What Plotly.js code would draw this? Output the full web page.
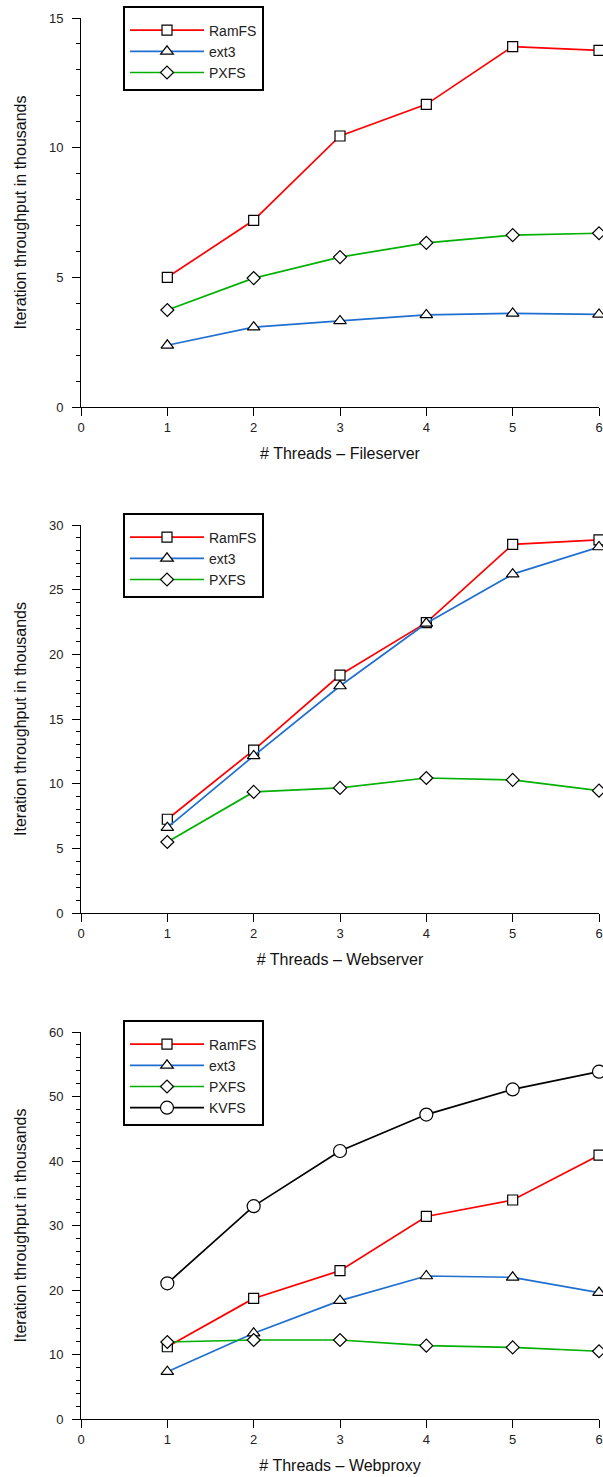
<!DOCTYPE html>
<html>
<head>
<meta charset="utf-8">
<script src="https://cdn.plot.ly/plotly-3.0.1.min.js"></script>
<style>html,body{margin:0;padding:0;background:#fff;}#chart{width:603px;height:1477px;}</style>
</head>
<body>
<div id="chart"></div>
<script>
// Threads (x values)
const threads = [1, 2, 3, 4, 5, 6];

// Fileserver (thousands)
const fileRamFS = [5.0, 7.2, 10.45, 11.67, 13.9, 13.75];
const fileExt3  = [2.38, 3.08, 3.32, 3.55, 3.61, 3.57];
const filePXFS  = [3.74, 4.97, 5.78, 6.33, 6.63, 6.70];

// Webserver (thousands)
const webRamFS = [7.25, 12.6, 18.4, 22.45, 28.5, 28.85];
const webExt3  = [6.6, 12.15, 17.55, 22.4, 26.2, 28.3];
const webPXFS  = [5.49, 9.36, 9.67, 10.44, 10.29, 9.46];

// Webproxy (thousands)
const proxyRamFS = [11.2, 18.7, 23.0, 31.4, 33.95, 40.9];
const proxyExt3  = [7.34, 13.3, 18.35, 22.17, 21.97, 19.6];
const proxyPXFS  = [11.94, 12.25, 12.25, 11.37, 11.1, 10.5];
const proxyKVFS  = [21.04, 33.0, 41.55, 47.2, 51.1, 53.85];

const xTitles = ["# Threads \u2013 Fileserver", "# Threads \u2013 Webserver", "# Threads \u2013 Webproxy"];
const yTitle = "Iteration throughput in thousands";

const RED = "#ff0000", BLUE = "#1f6fd1", GREEN = "#00b000", BLACK = "#000000";
const FONT = "Liberation Sans, Arial, sans-serif";

function tr(y, name, color, symbol, size, xa, ya, legend, show) {
  return {
    x: threads, y: y, name: name, type: "scatter", mode: "lines+markers",
    xaxis: xa, yaxis: ya, legend: legend, showlegend: show !== false,
    cliponaxis: false,
    line: {color: color, width: 1.7},
    marker: {symbol: symbol, size: size, color: "#ffffff", line: {color: "#000000", width: 1.2}}
  };
}

const data = [
  tr(fileRamFS, "RamFS", RED, "square", 10, "x", "y", "legend"),
  tr(fileExt3, "ext3", BLUE, "triangle-up", 11, "x", "y", "legend"),
  tr(filePXFS, "PXFS", GREEN, "diamond", 10, "x", "y", "legend"),
  tr(webRamFS, "RamFS", RED, "square", 10, "x2", "y2", "legend2"),
  tr(webExt3, "ext3", BLUE, "triangle-up", 11, "x2", "y2", "legend2"),
  tr(webPXFS, "PXFS", GREEN, "diamond", 10, "x2", "y2", "legend2"),
  tr(proxyRamFS, "RamFS", RED, "square", 10, "x3", "y3", "legend3"),
  tr(proxyExt3, "ext3", BLUE, "triangle-up", 11, "x3", "y3", "legend3"),
  tr(proxyPXFS, "PXFS", GREEN, "diamond", 10, "x3", "y3", "legend3"),
  tr(proxyKVFS, "KVFS", BLACK, "circle", 13, "x3", "y3", "legend3")
];

const H = 1477;
function dom(topPx, botPx) { return [(H - botPx) / H, (H - topPx) / H]; }

function xax(anchor, title) {
  return {
    anchor: anchor, domain: [0, 1], range: [0, 6], dtick: 1, tick0: 0,
    showline: true, linecolor: "#000", linewidth: 1, zeroline: false, showgrid: false,
    ticks: "outside", ticklen: 8, tickwidth: 1, tickcolor: "#000",
    tickfont: {family: FONT, size: 13, color: "#222"},
    title: {text: title, font: {family: FONT, size: 16, color: "#111"}, standoff: 14},
    fixedrange: true
  };
}
function yax(anchor, domain, max, dtick, minor) {
  return {
    anchor: anchor, domain: domain, range: [0, max], dtick: dtick, tick0: 0,
    showline: true, linecolor: "#000", linewidth: 1, zeroline: false, showgrid: false,
    ticks: "outside", ticklen: 8, tickwidth: 1, tickcolor: "#000",
    ticklabelstandoff: 6,
    minor: {dtick: minor, ticks: "outside", ticklen: 4, tickwidth: 1, tickcolor: "#000", showgrid: false},
    tickfont: {family: FONT, size: 13, color: "#222"},
    title: {text: yTitle, font: {family: FONT, size: 16, color: "#111"}, standoff: 18},
    fixedrange: true
  };
}
function leg(yTopPx) {
  return {
    x: (123 - 81) / 518, xanchor: "left", y: (H - yTopPx) / H, yanchor: "top",
    bgcolor: "#fff", bordercolor: "#000", borderwidth: 2,
    font: {family: FONT, size: 14, color: "#222"},
    title: {text: " ", font: {family: FONT, size: 5}},
    itemwidth: 74, tracegroupgap: 0, itemclick: false, itemdoubleclick: false
  };
}

const layout = {
  width: 603, height: 1477,
  margin: {l: 81, r: 4, t: 0, b: 0},
  paper_bgcolor: "#fff", plot_bgcolor: "#fff",
  font: {family: FONT},
  xaxis: xax("y", xTitles[0]),
  yaxis: yax("x", dom(18, 407), 15, 5, 1),
  xaxis2: xax("y2", xTitles[1]),
  yaxis2: yax("x2", dom(525, 913), 30, 5, 1),
  xaxis3: xax("y3", xTitles[2]),
  yaxis3: yax("x3", dom(1032, 1419), 60, 10, 2),
  legend: leg(6),
  legend2: leg(513),
  legend3: leg(1020)
};

Plotly.newPlot("chart", data, layout, {staticPlot: true, displayModeBar: false});
</script>
</body>
</html>
